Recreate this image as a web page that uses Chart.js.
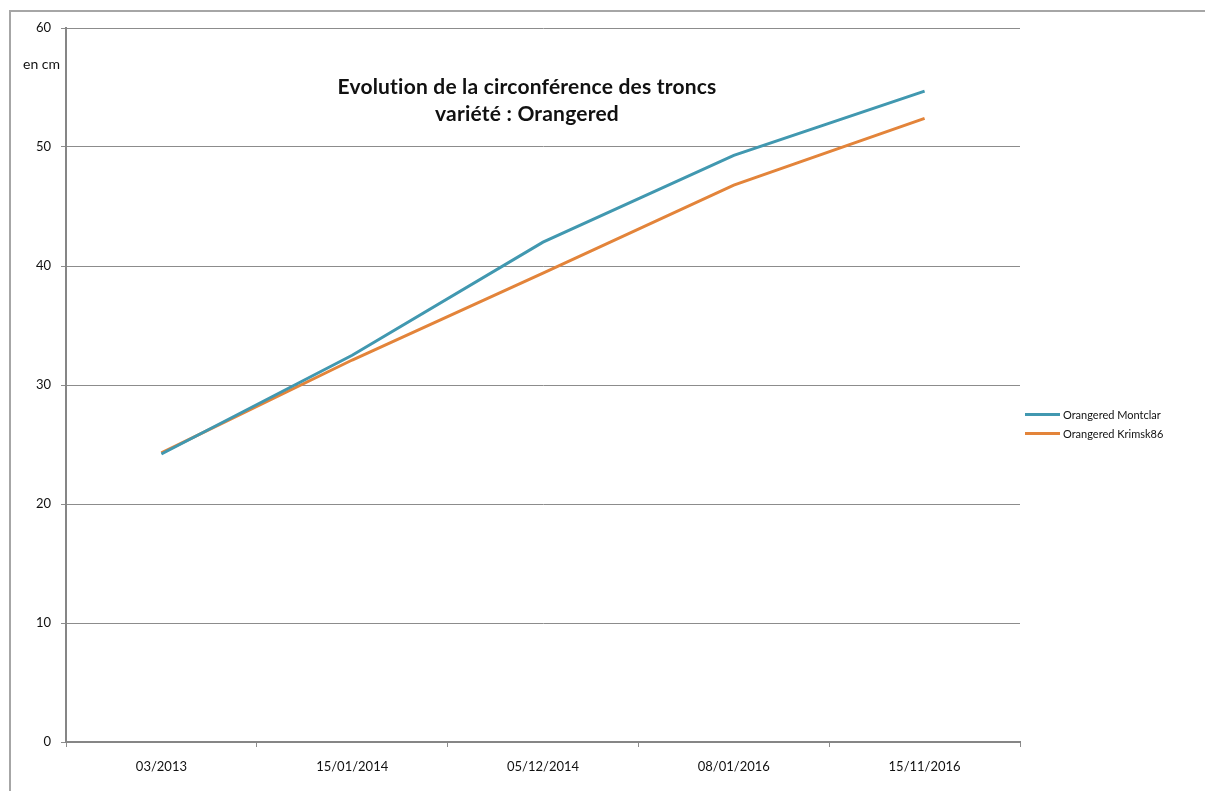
<!DOCTYPE html>
<html lang="fr">
<head>
<meta charset="utf-8">
<title>Evolution de la circonférence des troncs</title>
<script src="https://cdn.jsdelivr.net/npm/chart.js@4.4.1/dist/chart.umd.min.js"></script>
<style>
  html, body { margin: 0; background: #fff; overflow: hidden; font-family: Lato, "Open Sans", sans-serif; }
  #wrap { position: relative; width: 1205px; height: 791px; overflow: hidden; }
  #frame { position: absolute; left: 9px; top: 10px; width: 1300px; height: 900px;
           border-left: 2px solid #a6a6a6; border-top: 2px solid #a6a6a6; }
  canvas { position: absolute; left: 0; top: 0; }
  .title { position: absolute; left: 277px; width: 500px; top: 72px; text-align: center;
           font-weight: bold; font-size: 21px; letter-spacing: 0.2px; line-height: 27px; color: #111; }
  .unit { position: absolute; left: 23px; top: 55px; font-size: 14px; color: #111; }
  .legend { position: absolute; left: 1025px; top: 405px; font-size: 11px; color: #111; }
  .legend div { height: 19px; display: flex; align-items: center; }
  .legend span.sw { display: inline-block; width: 35px; height: 3px; margin-right: 3px; }
</style>
</head>
<body>
<div id="wrap">
  <div id="frame"></div>
  <canvas id="chart" width="1205" height="791"></canvas>
  <div class="unit">en cm</div>
  <div class="title">Evolution de la circonférence des troncs<br>variété : Orangered</div>
  <div class="legend" id="legend"></div>
</div>
<script>
const dates = ["03/2013", "15/01/2014", "05/12/2014", "08/01/2016", "15/11/2016"];
const montclar = [24.2, 32.5, 42.0, 49.3, 54.7];
const krimsk86 = [24.3, 32.1, 39.4, 46.8, 52.4];
const seriesNames = ["Orangered Montclar", "Orangered Krimsk86"];
const seriesColors = ["#4198b0", "#e3843a"];
const yTicks = [0, 10, 20, 30, 40, 50, 60];

const axisFont = { family: "Lato, 'Open Sans', sans-serif", size: 13 };

new Chart(document.getElementById("chart"), {
  type: "line",
  data: {
    labels: dates,
    datasets: [montclar, krimsk86].map((values, i) => ({
      label: seriesNames[i],
      data: values,
      borderColor: seriesColors[i],
      backgroundColor: seriesColors[i],
      borderWidth: 3,
      pointRadius: 0,
      tension: 0,
      fill: false
    }))
  },
  options: {
    responsive: false,
    animation: false,
    layout: { padding: { left: 0, right: 185, top: 28, bottom: 0 } },
    plugins: { legend: { display: false }, tooltip: { enabled: false } },
    scales: {
      x: {
        offset: true,
        grid: { offset: true, drawOnChartArea: false, drawTicks: true, tickLength: 5, color: "#8c8c8c" },
        border: { color: "#868686", width: 2 },
        ticks: { color: "#111", font: axisFont, padding: 12 },
        afterFit(scale) { scale.height = 49; }
      },
      y: {
        min: 0,
        max: 60,
        afterBuildTicks(scale) { scale.ticks = yTicks.map((v) => ({ value: v })); },
        grid: { color: "#8c8c8c", lineWidth: 1, tickLength: 5 },
        border: { color: "#868686", width: 2 },
        ticks: { color: "#111", font: axisFont, padding: 10 },
        afterFit(scale) { scale.width = 66; }
      }
    }
  }
});

document.getElementById("legend").innerHTML = seriesNames.map((name, i) =>
  `<div><span class="sw" style="background:${seriesColors[i]}"></span>${name}</div>`
).join("");
</script>
</body>
</html>
